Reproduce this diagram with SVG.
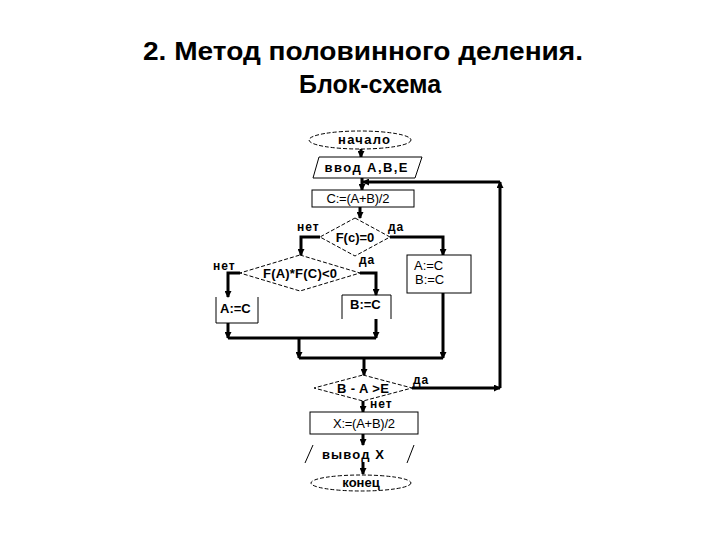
<svg xmlns="http://www.w3.org/2000/svg" width="720" height="540" viewBox="0 0 720 540">
<style>
.title{font-family:"Liberation Sans",Arial,sans-serif;font-weight:bold;font-size:25px;fill:#000;text-anchor:middle}
.t{font-family:"Liberation Sans",Arial,sans-serif;font-weight:bold;font-size:13px;fill:#000}
.s{font-family:"Liberation Sans",Arial,sans-serif;font-weight:bold;font-size:12px;fill:#000;letter-spacing:1px}
.f{font-family:"Liberation Sans",Arial,sans-serif;font-size:13px;fill:#000}
.m{text-anchor:middle}
.dash{fill:#fff;stroke:#000;stroke-width:1;stroke-dasharray:4,2}
.box{fill:#fff;stroke:#000;stroke-width:1}
.open{fill:none;stroke:#000;stroke-width:1}
.c{fill:none;stroke:#000;stroke-width:3}
.ca{fill:none;stroke:#000;stroke-width:3;marker-end:url(#ah)}
</style>
<defs>
<marker id="ah" markerUnits="userSpaceOnUse" markerWidth="7" markerHeight="7" refX="6" refY="3.5" orient="auto">
<path d="M0,0 L7,3.5 L0,7 z" fill="#000"/>
</marker>
</defs>
<rect width="720" height="540" fill="#fff"/>
<text class="title" x="363" y="60" textLength="440" lengthAdjust="spacingAndGlyphs">2. Метод половинного деления.</text>
<text class="title" x="370" y="93">Блок-схема</text>

<g id="connectors">
<path class="ca" d="M361,149 V157"/>
<path class="ca" d="M362,178 V190"/>
<path class="ca" d="M360,207 V218"/>
<path class="ca" d="M320,237 H301 V255"/>
<path class="ca" d="M390,237 H443 V255"/>
<path class="ca" d="M240,273 H228 V297"/>
<path class="ca" d="M360,273 H376 V295"/>
<path class="ca" d="M228,323 V338"/>
<path class="ca" d="M376,319 V338"/>
<path class="c" d="M228,338 H376"/>
<path class="ca" d="M299,338 V358"/>
<path class="c" d="M299,358 H443"/>
<path class="ca" d="M443,293 V358"/>
<path class="ca" d="M364,358 V375"/>
<path class="ca" d="M412,388 H500"/>
<path class="ca" d="M500,388 V182"/>
<path class="ca" d="M500,182 H363"/>
<path class="ca" d="M363,401 V412"/>
<path class="ca" d="M363,434 V445"/>
<path class="ca" d="M363,462 V474"/>
</g>

<g id="start">
<ellipse class="dash" cx="360" cy="140" rx="51" ry="9"/>
<text class="t m" x="364" y="144" textLength="52" lengthAdjust="spacing">начало</text>
</g>
<g id="input">
<polygon class="box" points="319,157 422,157 415,178 313,178"/>
<text class="t m" x="366" y="172" textLength="83" lengthAdjust="spacing">ввод A,B,E</text>
</g>
<g id="calcC">
<rect class="box" x="312" y="190" width="102" height="17"/>
<text class="f m" x="358" y="203" textLength="63" lengthAdjust="spacing">C:=(A+B)/2</text>
</g>
<g id="cond1">
<polygon class="dash" points="355,218 390,237 355,256 320,237"/>
<text class="t m" x="355" y="242">F(c)=0</text>
<text class="s" x="297" y="231">нет</text>
<text class="s" x="388" y="231">да</text>
</g>
<g id="cond2">
<polygon class="dash" points="300,255 360,273 300,291 240,273"/>
<text class="t m" x="300" y="278" textLength="74" lengthAdjust="spacing">F(A)*F(C)&lt;0</text>
<text class="s" x="213" y="270">нет</text>
<text class="s" x="359" y="264">да</text>
</g>
<g id="setA">
<path class="open" d="M216,297 V323 H258 V297"/>
<text class="t" x="220" y="313">A:=C</text>
</g>
<g id="setB">
<path class="open" d="M342,319 V295 H391 V319"/>
<text class="t" x="350" y="309">B:=C</text>
</g>
<g id="setAB">
<rect class="box" x="407" y="255" width="64" height="38"/>
<text class="f" x="414" y="270">A:=C</text>
<text class="f" x="415" y="284">B:=C</text>
</g>
<g id="cond3">
<polygon class="dash" points="363,375 412,388 363,401 314,388"/>
<text class="t m" x="363" y="393" textLength="52" lengthAdjust="spacing">B - A &gt;E</text>
<text class="s" x="413" y="384">да</text>
<text class="s" x="370" y="408">нет</text>
</g>
<g id="calcX">
<rect class="box" x="310" y="412" width="108" height="22"/>
<text class="f m" x="364" y="428" textLength="62" lengthAdjust="spacing">X:=(A+B)/2</text>
</g>
<g id="output">
<path class="open" d="M305,463 L313,445 M407,463 L414,445"/>
<text class="t" x="322" y="459" textLength="62" lengthAdjust="spacing">вывод  X</text>
</g>
<g id="end">
<ellipse class="dash" cx="361" cy="483" rx="50" ry="8"/>
<text class="t m" x="361" y="487">конец</text>
</g>
</svg>
